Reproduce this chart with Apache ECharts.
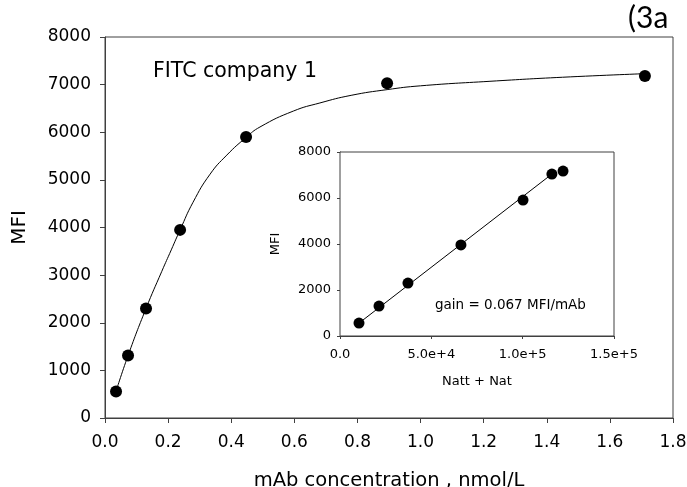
<!DOCTYPE html>
<html>
<head>
<meta charset="utf-8">
<script src="https://cdn.jsdelivr.net/npm/echarts@6/dist/echarts.min.js"></script>
<style>
  html, body { margin: 0; padding: 0; background: #fff; }
  #chart { width: 687px; height: 487px; }
</style>
</head>
<body>
<div id="chart"></div>
<script>
// main plot: measured points
const concX = [0.035, 0.073, 0.13, 0.238, 0.447, 0.894, 1.711]
const mfiY = [556, 1310, 2300, 3950, 5900, 7030, 7180]

// fitted curve
const fitX = [0.035, 0.073, 0.13, 0.18, 0.21, 0.238, 0.279, 0.333, 0.386, 0.447, 0.491, 0.597, 0.681, 0.78, 0.894, 1.0, 1.22, 1.45, 1.711]
const fitY = [560, 1310, 2300, 3080, 3530, 3950, 4530, 5120, 5520, 5890, 6110, 6445, 6615, 6775, 6895, 6975, 7070, 7155, 7230]

// inset: MFI vs Natt + Nat
const natX = [10400, 21350, 37200, 66200, 100200, 116000, 122100]
const natY = [560, 1300, 2300, 3960, 5910, 7040, 7170]
const gainLineX = [10400, 116000]
const gainLineY = [560, 7040]

const FONT = 'DejaVu Sans'
const AX = '#404040'

const zip = (a, b) => a.map((v, i) => [v, b[i]])

const chart = echarts.init(document.getElementById('chart'))

const option = {
    animation: false,
    backgroundColor: '#fff',
    grid: [
        { left: 105, top: 37, width: 568, height: 381, show: true, borderColor: AX, borderWidth: 1, outerBoundsMode: 'none' },
        { left: 340, top: 152, width: 274, height: 184, show: true, borderColor: AX, borderWidth: 1, backgroundColor: '#fff', outerBoundsMode: 'none', z: 3 }
    ],
    xAxis: [
        {
            gridIndex: 0, type: 'value', min: 0, max: 1.8, interval: 0.2,
            name: 'mAb concentration , nmol/L', nameLocation: 'middle', nameGap: 53,
            nameTextStyle: { fontFamily: FONT, fontSize: 19.5, color: '#000' },
            axisLine: { show: true, lineStyle: { color: AX } },
            axisTick: { show: true, length: 5, lineStyle: { color: AX } },
            axisLabel: { fontFamily: FONT, fontSize: 17, color: '#000', margin: 16, formatter: v => v.toFixed(1) },
            splitLine: { show: false }
        },
        {
            gridIndex: 1, type: 'value', min: 0, max: 150000, interval: 50000,
            name: 'Natt + Nat', nameLocation: 'middle', nameGap: 39,
            nameTextStyle: { fontFamily: FONT, fontSize: 13, color: '#000' },
            axisLine: { show: true, lineStyle: { color: AX } },
            axisTick: { show: true, length: 3, lineStyle: { color: AX } },
            axisLabel: { fontFamily: FONT, fontSize: 13, color: '#000', margin: 12, formatter: v => v === 0 ? '0.0' : v.toExponential(1) },
            splitLine: { show: false }
        }
    ],
    yAxis: [
        {
            gridIndex: 0, type: 'value', min: 0, max: 8000, interval: 1000,
            name: 'MFI', nameLocation: 'middle', nameGap: 75, nameRotate: 90,
            nameTextStyle: { fontFamily: FONT, fontSize: 20, color: '#000' },
            axisLine: { show: true, lineStyle: { color: AX } },
            axisTick: { show: true, length: 5, lineStyle: { color: AX } },
            axisLabel: { fontFamily: FONT, fontSize: 17, color: '#000', margin: 14, formatter: v => String(v) },
            splitLine: { show: false }
        },
        {
            gridIndex: 1, type: 'value', min: 0, max: 8000, interval: 2000,
            name: 'MFI', nameLocation: 'middle', nameGap: 58, nameRotate: 90,
            nameTextStyle: { fontFamily: FONT, fontSize: 13, color: '#000' },
            axisLine: { show: true, lineStyle: { color: AX } },
            axisTick: { show: true, length: 3, lineStyle: { color: AX } },
            axisLabel: { fontFamily: FONT, fontSize: 13, color: '#000', margin: 9, formatter: v => String(v) },
            splitLine: { show: false }
        }
    ],
    series: [
        {
            type: 'line', xAxisIndex: 0, yAxisIndex: 0,
            data: zip(fitX, fitY), smooth: 0.5, symbol: 'none',
            lineStyle: { color: '#000', width: 1 }
        },
        {
            type: 'scatter', xAxisIndex: 0, yAxisIndex: 0,
            data: zip(concX, mfiY), symbolSize: 12,
            itemStyle: { color: '#000', opacity: 1 }
        },
        {
            type: 'line', xAxisIndex: 1, yAxisIndex: 1, z: 4,
            data: zip(gainLineX, gainLineY), symbol: 'none',
            lineStyle: { color: '#000', width: 1 }
        },
        {
            type: 'scatter', xAxisIndex: 1, yAxisIndex: 1, z: 5,
            data: zip(natX, natY), symbolSize: 11,
            itemStyle: { color: '#000', opacity: 1 }
        }
    ],
    graphic: [
        {
            type: 'text', left: 153, top: 61, z: 10,
            style: { text: 'FITC company 1', fontFamily: FONT, fontSize: 20.5, fill: '#000' }
        },
        {
            type: 'text', left: 435, top: 298, z: 10,
            style: { text: 'gain = 0.067 MFI/mAb', fontFamily: FONT, fontSize: 13.5, fill: '#000' }
        },
        {
            type: 'text', left: 628, top: 3, z: 10,
            style: { text: '(3a', fontFamily: 'Lato', fontSize: 30, fill: '#000' }
        }
    ]
}

chart.setOption(option)
</script>
</body>
</html>
